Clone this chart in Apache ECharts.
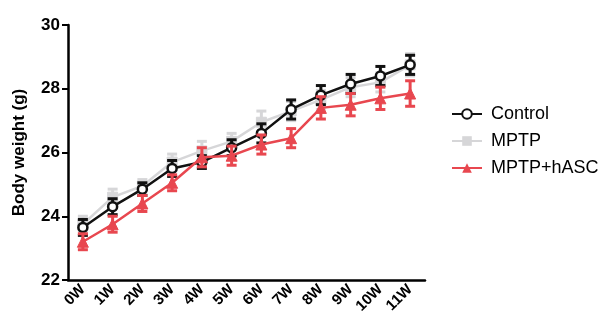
<!DOCTYPE html>
<html><head><meta charset="utf-8">
<script src="https://cdn.jsdelivr.net/npm/echarts@6/dist/echarts.min.js"></script>
<style>html,body{margin:0;padding:0;background:#fff}#c{width:605px;height:322px}</style>
</head><body><div id="c"></div>
<script>
const categories = ['0W','1W','2W','3W','4W','5W','6W','7W','8W','9W','10W','11W'];
const controlMean = [23.65, 24.3, 24.85, 25.5, 25.7, 26.15, 26.6, 27.35, 27.8, 28.15, 28.4, 28.75];
const controlErr  = [0.25, 0.25, 0.2, 0.25, 0.2, 0.25, 0.3, 0.3, 0.3, 0.3, 0.3, 0.3];
const mptpMean = [23.75, 24.6, 24.95, 25.7, 26.05, 26.35, 26.95, 27.3, 27.65, 28.05, 28.2, 28.75];
const mptpErr  = [0.25, 0.25, 0.2, 0.25, 0.3, 0.25, 0.35, 0.3, 0.3, 0.3, 0.3, 0.35];
const hascMean = [23.2, 23.75, 24.4, 25.05, 25.85, 25.9, 26.25, 26.45, 27.4, 27.5, 27.7, 27.85];
const hascErr  = [0.25, 0.25, 0.25, 0.25, 0.3, 0.3, 0.3, 0.3, 0.35, 0.35, 0.35, 0.4];
const yTicks = [22, 24, 26, 28, 30];

const BLACK = '#111111', GRAY = '#d6d6d8', RED = '#e8474f';

function errSeries(id, mean, err, color, z) {
  return {
    type: 'custom', name: id + ' SEM', z: z, silent: true,
    data: mean.map((m, i) => [i, m - err[i], m + err[i]]),
    renderItem: function (params, api) {
      const x = api.value(0);
      const lo = api.coord([x, api.value(1)]);
      const hi = api.coord([x, api.value(2)]);
      const hw = 5;
      const st = { stroke: color, lineWidth: 3 };
      return { type: 'group', children: [
        { type: 'line', shape: { x1: lo[0], y1: lo[1], x2: hi[0], y2: hi[1] }, style: st },
        { type: 'line', shape: { x1: lo[0]-hw, y1: lo[1], x2: lo[0]+hw, y2: lo[1] }, style: st },
        { type: 'line', shape: { x1: hi[0]-hw, y1: hi[1], x2: hi[0]+hw, y2: hi[1] }, style: st }
      ]};
    }
  };
}

const chart = echarts.init(document.getElementById('c'), null, { renderer: 'canvas' });
chart.setOption({
  animation: false,
  backgroundColor: '#fff',
  grid: { left: 68, right: 180, top: 25, bottom: 42, containLabel: false },
  xAxis: {
    type: 'category', data: categories, boundaryGap: true,
    axisLine: { lineStyle: { color: '#000', width: 2.5 } },
    axisTick: { alignWithLabel: true, length: 6, lineStyle: { color: '#000', width: 2 } },
    axisLabel: { rotate: 45, color: '#000', fontWeight: 'bold', fontSize: 15, fontFamily: 'Liberation Sans, Arial', margin: 7, interval: 0 }
  },
  yAxis: {
    type: 'value', min: yTicks[0], max: yTicks[yTicks.length-1], interval: 2,
    name: 'Body weight (g)', nameLocation: 'middle', nameGap: 40,
    nameTextStyle: { color: '#000', fontWeight: 'bold', fontSize: 17, fontFamily: 'Liberation Sans, Arial' },
    axisLine: { show: true, lineStyle: { color: '#000', width: 2.5 } },
    axisTick: { show: true, length: 6, lineStyle: { color: '#000', width: 2 } },
    splitLine: { show: false },
    axisLabel: { color: '#000', fontWeight: 'bold', fontSize: 17, fontFamily: 'Liberation Sans, Arial', margin: 8 }
  },
  legend: {
    orient: 'vertical', left: 446, top: 100, itemGap: 9, itemWidth: 30, itemHeight: 12,
    data: ['Control', 'MPTP', 'MPTP+hASC'],
    textStyle: { color: '#000', fontSize: 18, fontFamily: 'Liberation Sans, Arial', padding: [0, 0, 0, 4] }
  },
  series: [
    errSeries('MPTP', mptpMean, mptpErr, GRAY, 2),
    { type: 'line', name: 'MPTP', data: mptpMean, z: 3, symbol: 'rect', symbolSize: 10,
      color: GRAY,
      lineStyle: { color: GRAY, width: 2.5 }, itemStyle: { color: GRAY, borderColor: GRAY } },
    errSeries('Control', controlMean, controlErr, BLACK, 4),
    { type: 'line', name: 'Control', data: controlMean, z: 5, symbol: 'circle', symbolSize: 9,
      color: BLACK,
      lineStyle: { color: BLACK, width: 2.5 }, itemStyle: { color: '#fff', borderColor: BLACK, borderWidth: 2.5 } },
    errSeries('MPTP+hASC', hascMean, hascErr, RED, 6),
    { type: 'line', name: 'MPTP+hASC', data: hascMean, z: 7, symbol: 'triangle', symbolSize: 11,
      color: RED,
      lineStyle: { color: RED, width: 2.5 }, itemStyle: { color: RED, borderColor: RED } }
  ]
});
</script></body></html>
